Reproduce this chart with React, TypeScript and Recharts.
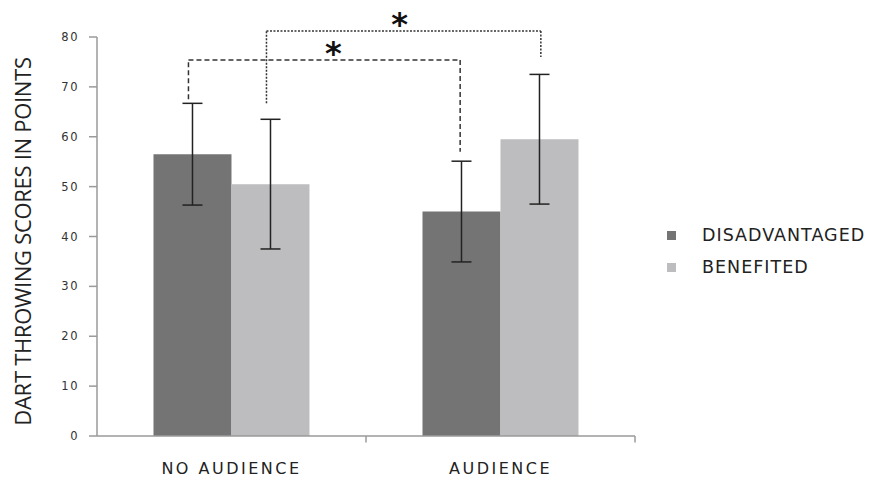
import React from 'react';
import { BarChart, Bar, XAxis, YAxis, ErrorBar, Legend, ReferenceLine } from 'recharts';

const categories = ['NO AUDIENCE', 'AUDIENCE'];
const seriesNames = ['DISADVANTAGED', 'BENEFITED'];
const disadvantaged = [56.5, 45];
const disadvantagedErr = [10.2, 10.1];
const benefited = [50.5, 59.5];
const benefitedErr = [13, 13];
const yTicks = [0, 10, 20, 30, 40, 50, 60, 70, 80];

// significance brackets (x in category units: 0..2, y in points)
const bracketLeftX = [0.34, 0.63];
const bracketRightX = [1.35, 1.65];
const bracketTopY = [75.4, 81.2];
const bracketLeftEndY = [67.5, 66.7];
const bracketRightEndY = [57, 76];
const bracketLabels = ['*', '*'];
const categoryBounds = [1, 2];

const DARK = '#747474';
const LIGHT = '#bdbdc0';
const TEXT = '#222';
const AXIS = '#9a9a9a';
const FONT = '"DejaVu Sans", Verdana, sans-serif';

const data = categories.map((name, i) => ({
  name,
  disadvantaged: disadvantaged[i],
  disadvantagedErr: disadvantagedErr[i],
  benefited: benefited[i],
  benefitedErr: benefitedErr[i],
}));

const dashes = ['5 3', '2 1.5'];
const starDx = [9, -4];

const LegendContent = (props: any) => {
  const items = [...(props.payload || [])].sort(
    (a: any, b: any) => seriesNames.indexOf(a.value) - seriesNames.indexOf(b.value)
  );
  return (
    <div style={{ fontFamily: FONT, fontSize: 17.5, color: TEXT, letterSpacing: 1 }}>
      {items.map((it: any) => (
        <div key={it.value} style={{ display: 'flex', alignItems: 'center', height: 32 }}>
          <span style={{ display: 'inline-block', width: 9, height: 9, background: it.color, marginRight: 26 }} />
          {it.value}
        </div>
      ))}
    </div>
  );
};

const YTick = (props: any) => {
  const { x, y, payload } = props;
  return (
    <text x={x} y={y} dy={4} textAnchor="end" fill="#333" fontSize={11.5} fontFamily={FONT} letterSpacing={1.5}>
      {payload.value}
    </text>
  );
};

export default function App() {
  return (
    <div style={{ position: 'absolute', left: 0, top: 0, background: '#fff' }}>
      <BarChart
        width={874}
        height={479}
        data={data}
        margin={{ top: 37, right: 239, bottom: 0, left: 0 }}
        barCategoryGap="21%"
        barGap={0}
      >
        <XAxis
          dataKey="name"
          height={43}
          axisLine={{ stroke: AXIS, strokeWidth: 1.5 }}
          tickLine={false}
          tickSize={6}
          tickMargin={21}
          tick={{ fill: TEXT, fontSize: 16, fontFamily: FONT, letterSpacing: 2.5 }}
        />
        <XAxis xAxisId="pos" dataKey="pos" type="number" domain={[0, 2]} allowDataOverflow hide />
        <YAxis
          width={97}
          domain={[0, 80]}
          ticks={yTicks}
          allowDataOverflow
          axisLine={{ stroke: AXIS, strokeWidth: 1.5 }}
          tickLine={{ stroke: AXIS, strokeWidth: 1.5 }}
          tickSize={8}
          tickMargin={10}
          tick={<YTick />}
          label={{
            value: 'DART THROWING SCORES IN POINTS',
            angle: -90,
            position: 'center',
            dx: -25,
            dy: 5,
            fill: TEXT,
            fontSize: 22,
            letterSpacing: -0.3,
            fontFamily: '"Liberation Sans Narrow", "Open Sans", sans-serif',
          }}
        />
        <Legend
          layout="vertical"
          align="center"
          verticalAlign="middle"
          content={<LegendContent />}
          wrapperStyle={{ left: 667, top: 219, width: 210 }}
        />
        <Bar dataKey="disadvantaged" name={seriesNames[0]} fill={DARK} isAnimationActive={false}>
          <ErrorBar dataKey="disadvantagedErr" width={10} stroke="#222" strokeWidth={1.5} />
        </Bar>
        <Bar dataKey="benefited" name={seriesNames[1]} fill={LIGHT} isAnimationActive={false}>
          <ErrorBar dataKey="benefitedErr" width={10} stroke="#222" strokeWidth={1.5} />
        </Bar>
        {categoryBounds.map((x) => (
          <ReferenceLine
            key={`b${x}`}
            xAxisId="pos"
            segment={[{ x, y: 0 }, { x, y: -1.3 }]}
            stroke={AXIS}
            strokeWidth={1.5}
            ifOverflow="visible"
          />
        ))}
        {bracketTopY.map((y, i) => [
          <ReferenceLine
            key={`l${i}`}
            xAxisId="pos"
            segment={[{ x: bracketLeftX[i], y: bracketLeftEndY[i] }, { x: bracketLeftX[i], y }]}
            stroke="#333"
            strokeWidth={1.5}
            strokeDasharray={dashes[i]}
            ifOverflow="visible"
          />,
          <ReferenceLine
            key={`h${i}`}
            xAxisId="pos"
            segment={[{ x: bracketLeftX[i], y }, { x: bracketRightX[i], y }]}
            stroke="#333"
            strokeWidth={1.5}
            strokeDasharray={dashes[i]}
            ifOverflow="visible"
            label={{
              value: bracketLabels[i],
              position: 'center',
              dx: starDx[i],
              dy: -7,
              fontSize: 32,
              fontWeight: 'bold',
              fontFamily: FONT,
              fill: '#111',
            }}
          />,
          <ReferenceLine
            key={`r${i}`}
            xAxisId="pos"
            segment={[{ x: bracketRightX[i], y }, { x: bracketRightX[i], y: bracketRightEndY[i] }]}
            stroke="#333"
            strokeWidth={1.5}
            strokeDasharray={dashes[i]}
            ifOverflow="visible"
          />,
        ])}
      </BarChart>
    </div>
  );
}
